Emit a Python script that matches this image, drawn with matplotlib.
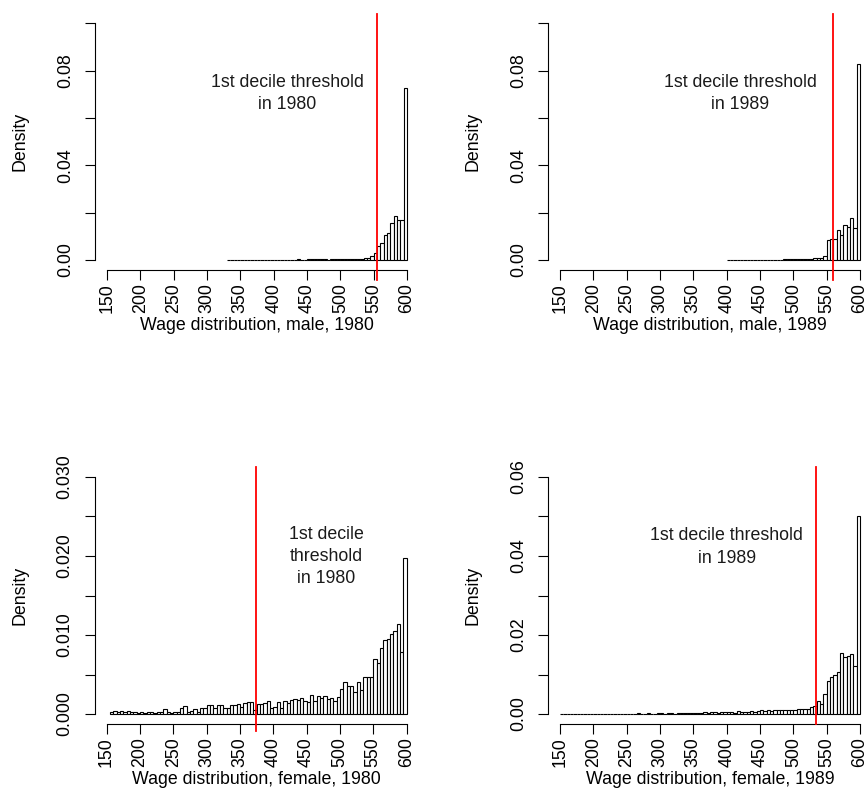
import numpy as np
import matplotlib
matplotlib.use('Agg')
import matplotlib.pyplot as plt

# 字体：接近 R 默认的 Helvetica
plt.rcParams['font.family'] = ['Liberation Sans', 'DejaVu Sans']
FS = 12.8

# ---- 数据（5 单位宽的直方图，密度值） ----
# 男性 1980，区间起点 330
m80_start = 330
m80 = [0.0002, 0.0001, 0.0001, 0.0001, 0.0001, 0.0001, 0.0001, 0.0001, 0.0002, 0.0001,
       0.0001, 0.0002, 0.0001, 0.0001, 0.0002, 0.0001, 0.0002, 0.0002, 0.0001, 0.0002,
       0.0002, 0.0003, 0.0002, 0.0002, 0.0003, 0.0004, 0.0003, 0.0003, 0.0003, 0.0003,
       0.0002, 0.0003, 0.0003, 0.0003, 0.0003, 0.0005, 0.0004, 0.0004, 0.0005, 0.0005,
       0.0006, 0.0008, 0.0010, 0.0015, 0.0028, 0.0061, 0.0070, 0.0107, 0.0114, 0.0158,
       0.0186, 0.0169, 0.0169, 0.0726]

# 男性 1989，区间起点 400
m89_start = 400
m89 = [0.0001, 0.0001, 0.0000, 0.0001, 0.0001, 0.0001, 0.0000, 0.0001, 0.0001, 0.0002,
       0.0001, 0.0001, 0.0002, 0.0001, 0.0002, 0.0002, 0.0002, 0.0003, 0.0003, 0.0003,
       0.0003, 0.0004, 0.0004, 0.0005, 0.0005, 0.0006, 0.0008, 0.0008, 0.0010, 0.0017,
       0.0085, 0.0087, 0.0090, 0.0127, 0.0105, 0.0148, 0.0141, 0.0176, 0.0134, 0.0830]

# 女性 1980，区间起点 155
f80_start = 155
f80 = [0.0002, 0.0004, 0.0002, 0.0004, 0.0002, 0.0004, 0.0003, 0.0002, 0.0001,
       0.0003, 0.0001, 0.0002, 0.0002, 0.0001, 0.0002, 0.0002, 0.0006, 0.0002, 0.0001,
       0.0002, 0.0002, 0.0008, 0.0010, 0.0002, 0.0004, 0.0006, 0.0002, 0.0007, 0.0008,
       0.0011, 0.0011, 0.0007, 0.0011, 0.0011, 0.0008, 0.0008, 0.0011, 0.0011, 0.0013,
       0.0009, 0.0014, 0.0015, 0.0015, 0.0005, 0.0013, 0.0013, 0.0014, 0.0017, 0.0007,
       0.0009, 0.0015, 0.0008, 0.0017, 0.0014, 0.0018, 0.0019, 0.0018, 0.0020, 0.0016,
       0.0015, 0.0024, 0.0016, 0.0023, 0.0020, 0.0023, 0.0019, 0.0020, 0.0016, 0.0021,
       0.0032, 0.0041, 0.0035, 0.0035, 0.0028, 0.0041, 0.0030, 0.0047, 0.0047, 0.0047,
       0.0070, 0.0065, 0.0084, 0.0094, 0.0095, 0.0101, 0.0105, 0.0114, 0.0079, 0.0197]

# 女性 1989，区间起点 150
f89_start = 150
f89 = [0.0001, 0.0000, 0.0001, 0.0001, 0.0000, 0.0001, 0.0001, 0.0000, 0.0001, 0.0001,
       0.0000, 0.0001, 0.0001, 0.0001, 0.0001, 0.0000, 0.0001, 0.0001, 0.0001, 0.0001,
       0.0001, 0.0001, 0.0001, 0.0002, 0.0001, 0.0001, 0.0002, 0.0001, 0.0001, 0.0002,
       0.0002, 0.0001, 0.0002, 0.0002, 0.0001, 0.0002, 0.0002, 0.0003, 0.0002, 0.0002,
       0.0003, 0.0002, 0.0003, 0.0004, 0.0003, 0.0004, 0.0004, 0.0003, 0.0005, 0.0004,
       0.0004, 0.0004, 0.0003, 0.0008, 0.0005, 0.0006, 0.0006, 0.0007, 0.0006, 0.0008,
       0.0009, 0.0008, 0.0009, 0.0008, 0.0011, 0.0010, 0.0010, 0.0011, 0.0011, 0.0011,
       0.0011, 0.0012, 0.0012, 0.0012, 0.0012, 0.0019, 0.0021, 0.0033, 0.0025, 0.0050,
       0.0083, 0.0093, 0.0098, 0.0106, 0.0155, 0.0145, 0.0148, 0.0152, 0.0122, 0.0500]

bin_width = 5

# 第一十分位数阈值（红线）
thresholds = [554.5, 559, 373.5, 534]
red_below_px = [10, 10, 7, 0]   # 红线伸出 x 轴下方的像素

# 注释文字和位置
notes = ['1st decile threshold\nin 1980', '1st decile threshold\nin 1989',
         '1st decile\nthreshold\nin 1980', '1st decile threshold\nin 1989']
note_pos = [(420, 0.0705), (420, 0.0705), (480, 0.0199), (400, 0.0423)]

xlabels = ['Wage distribution, male, 1980', 'Wage distribution, male, 1989',
           'Wage distribution, female, 1980', 'Wage distribution, female, 1989']

x_ticks = list(range(150, 601, 50))
y_ticks = [[0, 0.02, 0.04, 0.06, 0.08, 0.10],
           [0, 0.02, 0.04, 0.06, 0.08, 0.10],
           [0, 0.005, 0.010, 0.015, 0.020, 0.025, 0.030],
           [0, 0.01, 0.02, 0.03, 0.04, 0.05, 0.06]]
y_labels = [['0.00', '', '0.04', '', '0.08', ''],
            ['0.00', '', '0.04', '', '0.08', ''],
            ['0.000', '', '0.010', '', '0.020', '', '0.030'],
            ['0.00', '', '0.02', '', '0.04', '', '0.06']]

starts = [m80_start, m89_start, f80_start, f89_start]
values = [m80, m89, f80, f89]

# ---- 画布（像素位置换算为比例） ----
W, H = 868, 811
fig = plt.figure(figsize=(W / 100, H / 100), dpi=100)
fig.patch.set_facecolor('white')

boxes = [(95, 14, 324, 255.5), (548, 14, 324, 255.5),
         (94.5, 467.5, 324, 256), (548, 467.5, 324, 256)]

for i in range(4):
    x0, y0, w, h = boxes[i]
    ax = fig.add_axes([x0 / W, (H - y0 - h) / H, w / W, h / H])

    vals = np.array(values[i])
    edges = starts[i] + bin_width * np.arange(len(vals))
    ax.bar(edges, vals, width=bin_width, align='edge', color='white',
           edgecolor='black', linewidth=0.8)

    ytop = y_ticks[i][-1]
    y_lo, y_hi = -0.04 * ytop, ytop * 1.04
    ax.set_xlim(150 - 0.04 * 450, 600 + 0.04 * 450)
    ax.set_ylim(y_lo, y_hi)

    # 红色阈值线，可略伸出坐标轴
    ext = red_below_px[i] * (y_hi - y_lo) / h
    ax.plot([thresholds[i], thresholds[i]], [y_lo - ext, y_hi],
            color='#FF0000', linewidth=1.3, clip_on=False, zorder=3)

    tx, ty = note_pos[i]
    ax.text(tx, ty, notes[i], ha='center', va='center', fontsize=FS,
            color='#1a1a1a', linespacing=1.4)

    # R 风格坐标轴
    for s in ['top', 'right']:
        ax.spines[s].set_visible(False)
    ax.spines['left'].set_bounds(0, ytop)
    ax.spines['bottom'].set_bounds(150, 600)
    ax.spines['left'].set_linewidth(0.8)
    ax.spines['bottom'].set_linewidth(0.8)

    ax.set_xticks(x_ticks)
    ax.set_xticklabels([str(t) for t in x_ticks], rotation=90)
    ax.set_yticks(y_ticks[i])
    ax.set_yticklabels(y_labels[i], rotation=90, va='center')
    ax.tick_params(axis='both', length=7.2, width=0.8, labelsize=FS,
                   colors='black')
    ax.tick_params(axis='x', pad=2.5)
    ax.tick_params(axis='y', pad=8)

    ax.set_xlabel(xlabels[i], fontsize=FS)
    ax.xaxis.set_label_coords(0.5, -0.185)
    ax.set_ylabel('Density', fontsize=FS)
    ax.yaxis.set_label_coords(-0.205, 0.5)

fig.savefig('out.png', dpi=100, facecolor='white')
